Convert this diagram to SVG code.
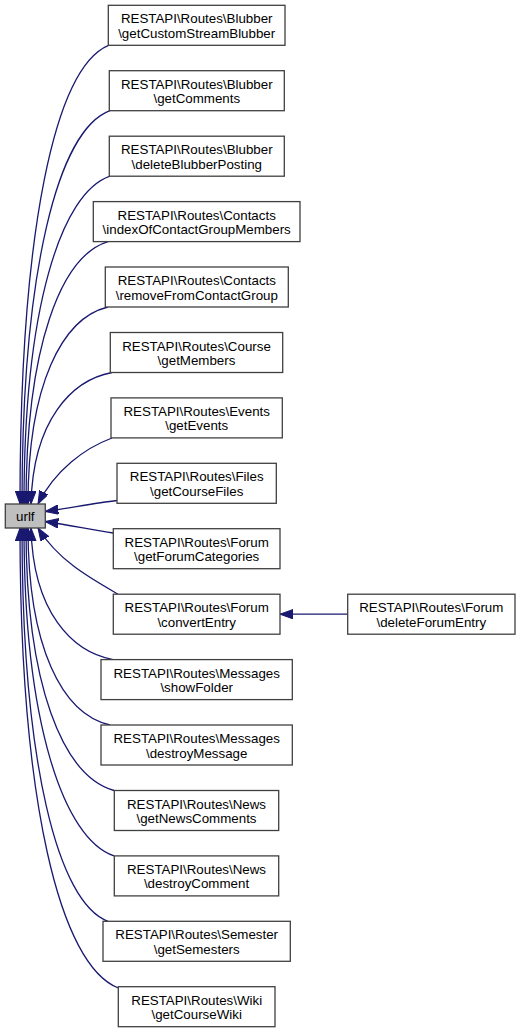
<svg xmlns="http://www.w3.org/2000/svg" width="520" height="1032" viewBox="0 0 520 1032">
<style>
.n rect{fill:#ffffff;stroke:#404040;stroke-width:1.3}
.root rect{fill:#bfbfbf;stroke:#404040;stroke-width:1.3}
text{font-family:"Liberation Sans",Arial,Helvetica,sans-serif;font-size:13.33px;fill:#000000;text-anchor:middle}
.e path{fill:none;stroke:#191970;stroke-width:1.3;marker-end:url(#ah)}
</style>
<defs>
<marker id="ah" markerUnits="userSpaceOnUse" markerWidth="14" markerHeight="10" refX="13" refY="4.7" orient="auto">
<path d="M0,0 L13,4.7 L0,9.4 z" fill="#191970" stroke="#191970" stroke-width="1"/>
</marker>
</defs>
<rect width="520" height="1032" fill="#ffffff"/>
<g id="edges" class="e">
<path d="M108.5,45.3 C55,68 20,229 20,504"/>
<path d="M110,110.7 C58,130 22,270 22,504"/>
<path d="M110,176.2 C61,193 24,308 24,504"/>
<path d="M108,241.6 C61,256 26,346 26,504"/>
<path d="M108,307 C62,318 28,385 28,504"/>
<path d="M112,372.5 C72,380 33,420 31,504"/>
<path d="M112,438 C85,448 55,470 38,504"/>
<path d="M117,500.5 C95,503 70,508 45.3,511.5"/>
<path d="M113.3,533 C92,530 70,525 45.3,521.5"/>
<path d="M118,594.2 C88,577 58,560 38,528"/>
<path d="M113,659.6 C72,652 33,612 31,528"/>
<path d="M110,725 C62,714 28,647 28,528"/>
<path d="M114,790.5 C63,776 26,686 26,528"/>
<path d="M114,855.9 C64,839 24,724 24,528"/>
<path d="M108,921.3 C58,903 22,763 22,528"/>
<path d="M118.3,988 C60,965 20,803 20,528"/>
<path d="M347.7,614.2 L280,614.2"/>
</g>
<g id="urlf" class="root"><rect x="5.3" y="504" width="40" height="24"/><text x="25.3" y="520.5">urlf</text></g>
<g id="n1" class="n"><rect x="108.3" y="5.3" width="176.7" height="40"/><text x="196.7" y="23.3">RESTAPI\Routes\Blubber</text><text x="196.7" y="37.8">\getCustomStreamBlubber</text></g>
<g id="n2" class="n"><rect x="109.3" y="70.7" width="175" height="40"/><text x="196.8" y="88.7">RESTAPI\Routes\Blubber</text><text x="196.8" y="103.2">\getComments</text></g>
<g id="n3" class="n"><rect x="109.3" y="136.2" width="175" height="40"/><text x="196.8" y="154.2">RESTAPI\Routes\Blubber</text><text x="196.8" y="168.7">\deleteBlubberPosting</text></g>
<g id="n4" class="n"><rect x="93.3" y="201.6" width="206.7" height="40"/><text x="196.7" y="219.6">RESTAPI\Routes\Contacts</text><text x="196.7" y="234.1">\indexOfContactGroupMembers</text></g>
<g id="n5" class="n"><rect x="105.3" y="267" width="183" height="40"/><text x="196.8" y="285">RESTAPI\Routes\Contacts</text><text x="196.8" y="299.5">\removeFromContactGroup</text></g>
<g id="n6" class="n"><rect x="110.3" y="332.5" width="172.4" height="40"/><text x="196.5" y="350.5">RESTAPI\Routes\Course</text><text x="196.5" y="365">\getMembers</text></g>
<g id="n7" class="n"><rect x="111" y="397.9" width="171.3" height="40"/><text x="196.7" y="415.9">RESTAPI\Routes\Events</text><text x="196.7" y="430.4">\getEvents</text></g>
<g id="n8" class="n"><rect x="117" y="463.3" width="159.3" height="40"/><text x="196.7" y="481.3">RESTAPI\Routes\Files</text><text x="196.7" y="495.8">\getCourseFiles</text></g>
<g id="n9" class="n"><rect x="113.3" y="528.7" width="166.7" height="40"/><text x="196.7" y="546.7">RESTAPI\Routes\Forum</text><text x="196.7" y="561.2">\getForumCategories</text></g>
<g id="n10" class="n"><rect x="113.3" y="594.2" width="166.7" height="40"/><text x="196.7" y="612.2">RESTAPI\Routes\Forum</text><text x="196.7" y="626.7">\convertEntry</text></g>
<g id="n11" class="n"><rect x="101" y="659.6" width="191.3" height="40"/><text x="196.7" y="677.6">RESTAPI\Routes\Messages</text><text x="196.7" y="692.1">\showFolder</text></g>
<g id="n12" class="n"><rect x="101" y="725" width="191.3" height="40"/><text x="196.7" y="743">RESTAPI\Routes\Messages</text><text x="196.7" y="757.5">\destroyMessage</text></g>
<g id="n13" class="n"><rect x="114.3" y="790.5" width="164.4" height="40"/><text x="196.5" y="808.5">RESTAPI\Routes\News</text><text x="196.5" y="823">\getNewsComments</text></g>
<g id="n14" class="n"><rect x="114.3" y="855.9" width="164.4" height="40"/><text x="196.5" y="873.9">RESTAPI\Routes\News</text><text x="196.5" y="888.4">\destroyComment</text></g>
<g id="n15" class="n"><rect x="103" y="921.3" width="187.3" height="40"/><text x="196.7" y="939.3">RESTAPI\Routes\Semester</text><text x="196.7" y="953.8">\getSemesters</text></g>
<g id="n16" class="n"><rect x="118.3" y="986.7" width="156.7" height="40"/><text x="196.7" y="1004.7">RESTAPI\Routes\Wiki</text><text x="196.7" y="1019.2">\getCourseWiki</text></g>
<g id="n17" class="n"><rect x="347.7" y="594.2" width="167.3" height="40"/><text x="431.3" y="612.2">RESTAPI\Routes\Forum</text><text x="431.3" y="626.7">\deleteForumEntry</text></g>
</svg>
